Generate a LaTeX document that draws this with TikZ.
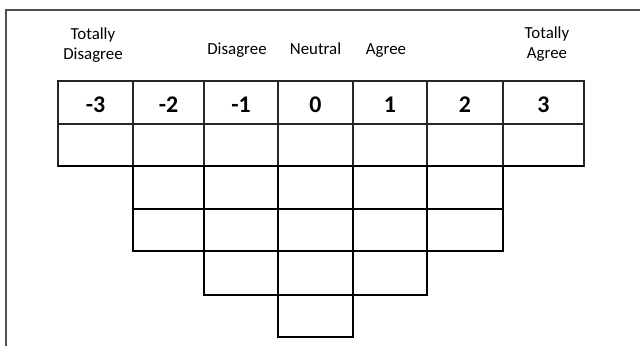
\documentclass[tikz,border=0pt]{standalone}
\usepackage{fontspec}
\setmainfont{Carlito}
\usepackage{tikz}
\usetikzlibrary{positioning}
\definecolor{framegray}{RGB}{80,80,80}

\begin{document}
\begin{tikzpicture}[x=0.025cm, y=-0.025cm,
    rating/.style={font=\fontsize{12}{14.5}\selectfont, align=center, inner sep=0pt},
    score/.style={font=\fontsize{17}{20}\selectfont\bfseries, inner sep=0pt},
    toprow/.style={draw=black!85, line width=0.8pt},
    lowrow/.style={draw=black, line width=1.1pt}]
  \useasboundingbox (0,0) rectangle (640,346);
  \clip (0,0) rectangle (640,346);
  \draw[framegray, line width=1.2pt] (641,10) -- (6,10) -- (6,347);

  % the two full rows
  \foreach \xa/\xb/\n in {58/133/-3, 133/204/-2, 204/278/-1, 278/353/0, 353/427/1, 427/503/2, 503/584/3} {
    \draw[toprow] (\xa,81) rectangle (\xb,124);
    \draw[toprow] (\xa,124) rectangle (\xb,166);
    \node[score] (s\n) at ({(\xa+\xb)/2},104.5) {\n};
  }
  % the funnel below
  \foreach \xa/\xb in {133/204, 204/278, 278/353, 353/427, 427/503} {
    \draw[lowrow] (\xa,166) rectangle (\xb,209);
    \draw[lowrow] (\xa,209) rectangle (\xb,251);
  }
  \foreach \xa/\xb in {204/278, 278/353, 353/427}
    \draw[lowrow] (\xa,251) rectangle (\xb,295);
  \draw[lowrow] (278,295) rectangle (353,337);
  \draw[lowrow] (58,166) -- (133,166) (503,166) -- (584,166);

  \node[rating, anchor=base] (totdis) at (93,60) {Totally\\ Disagree};
  \node[rating, anchor=base] (dis) at (237,55) {Disagree};
  \node[rating, anchor=base] (neu) at (315.5,55) {Neutral};
  \node[rating, anchor=base] (agr) at (386,55) {Agree};
  \node[rating, anchor=base] (totagr) at (547,58.5) {Totally\\ Agree};
\end{tikzpicture}
\end{document}
